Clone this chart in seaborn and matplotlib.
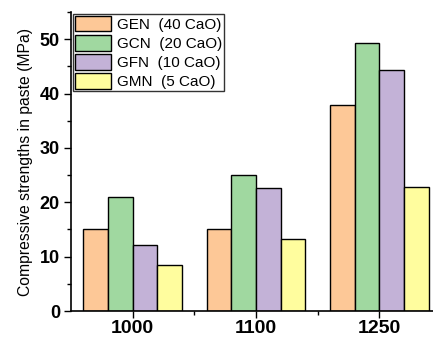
import matplotlib
matplotlib.use("Agg")
import matplotlib.pyplot as plt
import seaborn as sns
import pandas as pd
from matplotlib.ticker import MultipleLocator, FixedLocator

temps = ["1000", "1100", "1250"]
series = ["GEN  (40 CaO)", "GCN  (20 CaO)", "GFN  (10 CaO)", "GMN  (5 CaO)"]
gen = [15.0, 15.0, 37.9]
gcn = [20.9, 25.0, 49.3]
gfn = [12.1, 22.6, 44.4]
gmn = [8.4, 13.3, 22.8]
colors = ["#FDC897", "#A0D8A0", "#C3B2D7", "#FFFD9E"]

rows = []
for name, vals in zip(series, [gen, gcn, gfn, gmn]):
    for t, v in zip(temps, vals):
        rows.append({"temp": t, "series": name, "value": v})
df = pd.DataFrame(rows)

sns.set_style("ticks")
plt.rcParams['font.family'] = ['Liberation Sans', 'DejaVu Sans']
plt.rcParams['text.color'] = 'black'
plt.rcParams['axes.labelcolor'] = 'black'
plt.rcParams['xtick.color'] = 'black'
plt.rcParams['ytick.color'] = 'black'

fig = plt.figure(figsize=(4.33, 3.39), dpi=100)
ax = fig.add_axes([71/433, 28/339, (441-71)/433, (311-12)/339])
sns.barplot(data=df, x="temp", y="value", hue="series", order=temps,
            hue_order=series, palette=colors, edgecolor="black",
            linewidth=1.0, width=0.8, ax=ax, saturation=1)

ax.set_xlim(-0.5, 2.5)
ax.set_ylim(0, 55)
ax.yaxis.set_major_locator(MultipleLocator(10))
ax.yaxis.set_minor_locator(MultipleLocator(5))
ax.xaxis.set_minor_locator(FixedLocator([0.5, 1.5]))
ax.tick_params(axis='both', which='major', direction='out', length=5, width=1, color='black')
ax.tick_params(axis='both', which='minor', direction='out', length=3, width=1, color='black')
ax.tick_params(axis='x', labelsize=14, pad=1.5)
ax.tick_params(axis='y', labelsize=13, pad=3)
for lab in ax.get_xticklabels() + ax.get_yticklabels():
    lab.set_fontweight('bold')
    lab.set_color('black')
ax.set_xlabel("")
ax.set_ylabel("Compressive strengths in paste (MPa)", fontsize=11.3, labelpad=5, color='black')
for s in ["top", "right"]:
    ax.spines[s].set_visible(False)
for s in ["left", "bottom"]:
    ax.spines[s].set_linewidth(1.2)
    ax.spines[s].set_color('black')

leg = ax.legend(loc="upper left", bbox_to_anchor=(0.0, 1.0), borderaxespad=0.1,
                fontsize=11, frameon=True, fancybox=False, edgecolor='black',
                handlelength=2.4, handleheight=1.2, handletextpad=0.35,
                labelspacing=0.2, borderpad=0.15)
leg.get_frame().set_linewidth(1.0)
for t in leg.get_texts():
    t.set_color('black')

fig.savefig("out.png", dpi=100)
